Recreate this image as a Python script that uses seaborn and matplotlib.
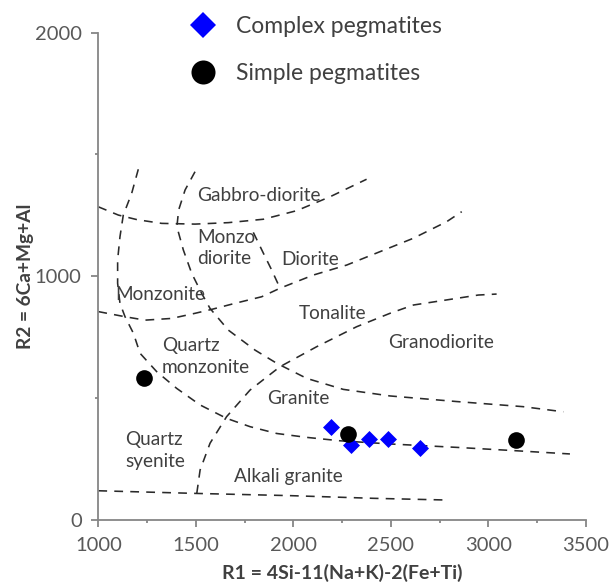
import matplotlib
matplotlib.use("Agg")
import matplotlib.pyplot as plt
from matplotlib.lines import Line2D
from matplotlib.ticker import MultipleLocator
import seaborn as sns
import pandas as pd

# Pegmatite compositions in R1-R2 space
complex_r1 = [2192, 2294, 2388, 2487, 2650]
complex_r2 = [380, 308, 334, 334, 297]
simple_r1 = [1234, 2282, 3142]
simple_r2 = [584, 353, 328]

# Field boundaries of the R1-R2 classification grid
gabbro_r1 = [1000, 1103, 1200, 1325, 1496, 1667, 1847, 2017, 2188, 2376]
gabbro_r2 = [1285, 1251, 1232, 1217, 1214, 1220, 1234, 1269, 1326, 1398]

left_r1 = [1205, 1171, 1128, 1111, 1099, 1099, 1111, 1137, 1180, 1214, 1299, 1402,
           1522, 1658, 1778, 1915, 2069, 2240, 2496, 2838, 3146, 3419]
left_r2 = [1439, 1340, 1251, 1162, 1067, 971, 889, 834, 766, 684, 609, 540,
           472, 417, 383, 355, 339, 325, 312, 298, 284, 271]

mid_r1 = [1496, 1445, 1412, 1403, 1436, 1479, 1530, 1573, 1667, 1804, 1915, 2069,
          2256, 2496, 2838, 3179, 3385]
mid_r2 = [1429, 1354, 1272, 1203, 1108, 1012, 930, 868, 779, 697, 643, 581,
          536, 509, 486, 465, 444]

diorite_r1 = [1795, 1847, 1889, 1932]
diorite_r2 = [1180, 1094, 1026, 951]

tonalite_r1 = [1000, 1137, 1240, 1376, 1496, 1581, 1701, 1838, 1932, 2103, 2274,
               2445, 2616, 2787, 2864]
tonalite_r2 = [855, 834, 820, 827, 848, 864, 889, 916, 951, 1005, 1046,
               1101, 1156, 1224, 1265]

granite_r1 = [1505, 1522, 1573, 1658, 1778, 1932, 2120, 2325, 2496, 2616, 2787, 2949, 3043]
granite_r2 = [109, 205, 315, 424, 533, 629, 711, 793, 848, 882, 903, 923, 927]

alkali_r1 = [1000, 1505, 1983, 2410, 2787]
alkali_r2 = [120, 109, 100, 89, 82]

boundaries = [(gabbro_r1, gabbro_r2), (left_r1, left_r2), (mid_r1, mid_r2),
              (diorite_r1, diorite_r2), (tonalite_r1, tonalite_r2),
              (granite_r1, granite_r2), (alkali_r1, alkali_r2)]

# Field names and where they sit
field_names = ["Gabbro-diorite", "Diorite", "Monzonite", "Tonalite",
               "Granodiorite", "Granite", "Alkali granite"]
field_r1 = [1822, 2086, 1316, 2202, 2757, 2026, 1974]
field_r2 = [1333, 1067, 927, 848, 727, 499, 178]

stacked_names = ["Monzo\ndiorite", "Quartz\nmonzonite", "Quartz\nsyenite"]
stacked_r1 = [1506, 1325, 1137]
stacked_r2 = [1116, 670, 287]

x_ticks = [1000, 1500, 2000, 2500, 3000, 3500]
y_ticks = [0, 1000, 2000]

sns.set_theme(style="white")
plt.rcParams['font.family'] = ['Lato', 'DejaVu Sans']

axis_grey = "#868686"
text_grey = "#404040"
tick_grey = "#595959"

fig = plt.figure(figsize=(6.13, 5.85), dpi=100)
ax = fig.add_axes([0.1604, 0.1111, 0.7951, 0.8333])

for bx, by in boundaries:
    sns.lineplot(x=bx, y=by, sort=False, estimator=None, ax=ax, color="#2a2a2a",
                 linewidth=1.15, dashes=(5.5, 4.5))

sns.scatterplot(x=complex_r1, y=complex_r2, ax=ax, marker="D", s=75,
                color="#0000FF", edgecolor="#0000FF", linewidth=0, zorder=3)
sns.scatterplot(x=simple_r1, y=simple_r2, ax=ax, marker="o", s=144,
                color="#000000", edgecolor="#000000", linewidth=0, zorder=4)

for name, fx, fy in zip(field_names, field_r1, field_r2):
    ax.text(fx, fy, name, ha="center", va="center", fontsize=13.7, color=text_grey)
for name, fx, fy in zip(stacked_names, stacked_r1, stacked_r2):
    ax.text(fx, fy, name, ha="left", va="center", fontsize=13.7, color=text_grey,
            linespacing=1.35)

ax.set_xlim(1000, 3500)
ax.set_ylim(0, 2000)
ax.set_xticks(x_ticks)
ax.set_yticks(y_ticks)
ax.xaxis.set_minor_locator(MultipleLocator(250))
ax.yaxis.set_minor_locator(MultipleLocator(500))

for side in ["top", "right"]:
    ax.spines[side].set_visible(False)
for side in ["left", "bottom"]:
    ax.spines[side].set_color(axis_grey)
    ax.spines[side].set_linewidth(1.3)

ax.tick_params(which="major", direction="out", length=5, width=1.3, color=axis_grey,
               labelsize=14.5, labelcolor=tick_grey, pad=7)
ax.tick_params(which="minor", direction="out", length=2.5, width=1.3, color=axis_grey)
ax.tick_params(axis="x", which="both", bottom=True)
ax.tick_params(axis="y", which="both", left=True)

ax.set_xlabel("R1 = 4Si-11(Na+K)-2(Fe+Ti)", fontsize=14.0, fontweight="bold", color=text_grey)
ax.set_ylabel("R2 = 6Ca+Mg+Al", fontsize=13.8, fontweight="bold", color=text_grey)
ax.xaxis.set_label_coords(0.5, -0.1095)
ax.xaxis.label.set_va("center")
ax.yaxis.set_label_coords(-0.1504, 0.5)
ax.yaxis.label.set_va("center")

handles = [
    Line2D([], [], linestyle="none", marker="D", markersize=13.6,
           markerfacecolor="#0000FF", markeredgewidth=0),
    Line2D([], [], linestyle="none", marker="o", markersize=17.3,
           markerfacecolor="#000000", markeredgewidth=0),
]
leg = fig.legend(handles, ["Complex pegmatites", "Simple pegmatites"],
                 loc="upper left", bbox_to_anchor=(189 / 613, 1 - 16 / 585),
                 frameon=False, fontsize=16.5, handlelength=1.2, handletextpad=0.83,
                 labelspacing=1.14, borderpad=0, borderaxespad=0)
for t in leg.get_texts():
    t.set_color(text_grey)

fig.savefig("out.png", dpi=100)
